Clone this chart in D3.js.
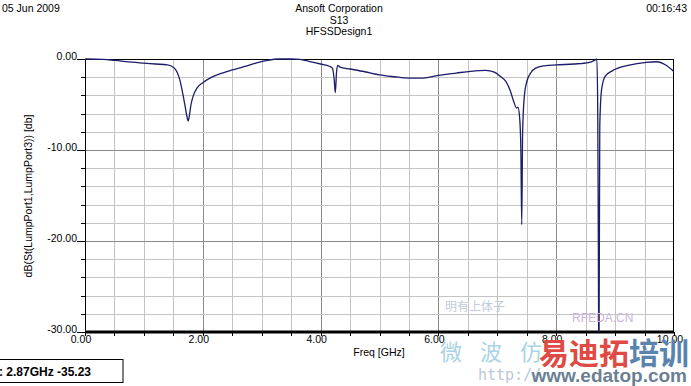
<!DOCTYPE html>
<html>
<head>
<meta charset="utf-8">
<script src="https://cdn.jsdelivr.net/npm/d3@7"></script>
<style>
  body { margin: 0; background: #fff; }
  svg { display: block; font-family: "Liberation Sans", Arial, sans-serif; }
</style>
</head>
<body>
<div id="chart"></div>
<script>
// S13 sweep
var freq = [0.00, 0.30, 0.50, 0.80, 1.00, 1.20, 1.40, 1.50, 1.56, 1.61, 1.66, 1.70, 1.73, 1.75, 1.77, 1.80, 1.84, 1.90,
            2.00, 2.12, 2.30, 2.50, 2.70, 2.90, 3.10, 3.30, 3.50, 3.65, 3.80, 4.00, 4.15, 4.20, 4.23, 4.25, 4.27, 4.29, 4.33,
            4.50, 4.75, 5.00, 5.25, 5.50, 5.70, 6.00, 6.30, 6.55, 6.80, 6.95, 7.05, 7.15, 7.22, 7.28, 7.33, 7.35, 7.38,
            7.40, 7.415, 7.43, 7.46, 7.50, 7.56, 7.65, 7.80, 8.00, 8.30, 8.55, 8.65, 8.69, 8.705, 8.715, 8.725, 8.74,
            8.77, 8.83, 8.95, 9.24, 9.53, 9.70, 9.86, 10.00];
var s13 = [0.00, -0.05, -0.15, -0.35, -0.45, -0.55, -0.65, -0.9, -1.4, -2.3, -3.8, -5.2, -6.3, -6.8, -6.3, -5.0, -4.0, -3.2,
           -2.6, -2.1, -1.6, -1.2, -0.85, -0.45, -0.15, 0.0, 0.0, -0.05, -0.25, -0.55, -0.8, -1.0, -2.2, -3.7, -1.5, -0.7, -0.9,
           -1.1, -1.4, -1.75, -1.95, -2.1, -2.1, -1.8, -1.55, -1.35, -1.25, -1.45, -1.9, -2.5, -3.5, -4.7, -5.4, -5.3, -6.5,
           -10.0, -18.2, -8.0, -4.0, -2.5, -1.6, -1.0, -0.75, -0.65, -0.55, -0.4, -0.15, 0.0, -5.4, -19.5, -35.0, -7.3,
           -3.4, -1.9, -1.3, -0.66, -0.36, -0.3, -0.66, -1.4];

var xTicks = [0, 2, 4, 6, 8, 10];
var yTicks = [0, -10, -20, -30];
var headerLeft = "05 Jun 2009";
var headerRight = "00:16:43";
var titles = ["Ansoft Corporation", "S13", "HFSSDesign1"];
var markerText = "m1: 2.87GHz -35.23";

var W = 691, H = 386;
var svg = d3.select("#chart").append("svg")
  .attr("width", W)
  .attr("height", H);

var x = d3.scaleLinear().domain([0, 10]).range([85, 674]);
var y = d3.scaleLinear().domain([-30, 0]).range([332, 59]);

// grid
var vGrid = d3.range(0, 10.01, 0.5);
var hGrid = d3.range(-30, 0.01, 2);

svg.append("g").selectAll("line")
  .data(vGrid.filter(function(d) { return d > 0 && d < 10; }))
  .enter().append("line")
    .attr("x1", function(d) { return Math.round(x(d)) + 0.5; })
    .attr("x2", function(d) { return Math.round(x(d)) + 0.5; })
    .attr("y1", y(0))
    .attr("y2", y(-30))
    .attr("stroke", function(d) { return d % 2 === 0 ? "#8a8a8a" : "#c4c4c4"; });

svg.append("g").selectAll("line")
  .data(hGrid.filter(function(d) { return d > -30 && d < 0; }))
  .enter().append("line")
    .attr("x1", x(0))
    .attr("x2", x(10))
    .attr("y1", function(d) { return Math.round(y(d)) + 0.5; })
    .attr("y2", function(d) { return Math.round(y(d)) + 0.5; })
    .attr("stroke", function(d) { return d % 10 === 0 ? "#8a8a8a" : "#c4c4c4"; });

// frame
svg.append("line").attr("x1", x(0)).attr("x2", x(10)).attr("y1", y(0) + 0.5).attr("y2", y(0) + 0.5)
  .attr("stroke", "#000");
svg.append("line").attr("x1", x(0) + 0.5).attr("x2", x(0) + 0.5).attr("y1", y(0)).attr("y2", y(-30))
  .attr("stroke", "#000");
svg.append("line").attr("x1", x(10) - 0.5).attr("x2", x(10) - 0.5).attr("y1", y(0)).attr("y2", y(-30))
  .attr("stroke", "#000");

// y axis ticks + labels
svg.append("g").selectAll("line")
  .data(hGrid)
  .enter().append("line")
    .attr("x1", function(d) { return d % 10 === 0 ? 77 : 81; })
    .attr("x2", 85)
    .attr("y1", function(d) { return Math.round(y(d)) + 0.5; })
    .attr("y2", function(d) { return Math.round(y(d)) + 0.5; })
    .attr("stroke", "#000");

svg.append("g").selectAll("text")
  .data(yTicks)
  .enter().append("text")
    .attr("x", 77)
    .attr("y", function(d) { return y(d) + 1; })
    .attr("text-anchor", "end")
    .attr("font-size", "10.5px")
    .text(function(d) { return d.toFixed(2); });

// x axis
svg.append("g").selectAll("line")
  .data(vGrid)
  .enter().append("line")
    .attr("x1", function(d) { return Math.round(x(d)) + 0.5; })
    .attr("x2", function(d) { return Math.round(x(d)) + 0.5; })
    .attr("y1", y(-30))
    .attr("y2", y(-30) + 4)
    .attr("stroke", "#000");

svg.append("line").attr("x1", x(0)).attr("x2", x(10)).attr("y1", y(-30)).attr("y2", y(-30))
  .attr("stroke", "#000").attr("stroke-width", 3);

svg.append("g").selectAll("text")
  .data(xTicks)
  .enter().append("text")
    .attr("x", function(d) { return x(d) - 4; })
    .attr("y", y(-30) + 11)
    .attr("text-anchor", "middle")
    .attr("font-size", "10.5px")
    .text(function(d) { return d.toFixed(2); });

svg.append("text")
  .attr("x", 379).attr("y", 356)
  .attr("text-anchor", "middle")
  .attr("font-size", "10.5px")
  .text("Freq [GHz]");

svg.append("text")
  .attr("transform", "translate(32,196) rotate(-90)")
  .attr("text-anchor", "middle")
  .attr("font-size", "10.5px")
  .text("dB(St(LumpPort1,LumpPort3)) [db]");

// curve
svg.append("clipPath").attr("id", "plotclip")
  .append("rect").attr("x", x(0)).attr("y", y(0) - 2).attr("width", x(10) - x(0)).attr("height", y(-30) - y(0) + 2);

var pts = freq.map(function(f, i) { return [f, s13[i]]; });
var line = d3.line()
  .x(function(d) { return x(d[0]); })
  .y(function(d) { return y(d[1]); })
  .curve(d3.curveMonotoneX);

svg.append("path")
  .datum(pts)
  .attr("clip-path", "url(#plotclip)")
  .attr("fill", "none")
  .attr("stroke", "#1c1c6a")
  .attr("stroke-width", 1.3)
  .attr("d", line);

// header
svg.append("text").attr("x", 2).attr("y", 12).attr("font-size", "10.5px").text(headerLeft);
svg.append("text").attr("x", 687).attr("y", 12).attr("text-anchor", "end").attr("font-size", "10.5px").text(headerRight);
svg.append("g").selectAll("text")
  .data(titles)
  .enter().append("text")
    .attr("x", 339)
    .attr("y", function(d, i) { return 12 + i * 11.5; })
    .attr("text-anchor", "middle")
    .attr("font-size", "10.5px")
    .text(function(d) { return d; });

// marker readout box (left part runs off the page, as in the original)
svg.append("rect")
  .attr("x", -10).attr("y", 359.5).attr("width", 133).attr("height", 23)
  .attr("fill", "#fff").attr("stroke", "#000");
svg.append("text")
  .attr("x", 91).attr("y", 376)
  .attr("text-anchor", "end")
  .attr("font-size", "12px").attr("font-weight", "bold")
  .text(markerText);

// watermarks
var wm = svg.append("g");
wm.append("text").attr("x", 445).attr("y", 311).attr("font-size", "12px")
  .attr("fill", "#c0ccd8").attr("font-family", "Noto Sans CJK SC").text("明有上体子");
wm.append("text").attr("x", 440).attr("y", 360).attr("font-size", "22px")
  .attr("fill", "#a8d4e4").attr("font-family", "Noto Sans CJK SC").attr("letter-spacing", "18px").text("微波仿");
wm.append("text").attr("x", 572).attr("y", 322).attr("font-size", "12px")
  .attr("fill", "#c8b4dc").text("RFEDA.CN");
wm.append("text").attr("x", 478).attr("y", 380).attr("font-size", "15px")
  .attr("fill", "#bcc8d4").attr("font-family", "DejaVu Sans Mono").text("http://");
var cn = wm.append("text").attr("x", 539).attr("y", 364).attr("font-size", "30px")
  .attr("font-weight", "bold").attr("font-family", "Noto Sans CJK SC");
cn.append("tspan").attr("fill", "#e04a44").text("易迪拓");
cn.append("tspan").attr("fill", "#5a84ae").text("培训");
wm.append("text").attr("x", 687).attr("y", 382).attr("text-anchor", "end").attr("font-size", "19px")
  .attr("font-weight", "bold").attr("fill", "#6b7f94").text("www.edatop.com");
</script>
</body>
</html>
